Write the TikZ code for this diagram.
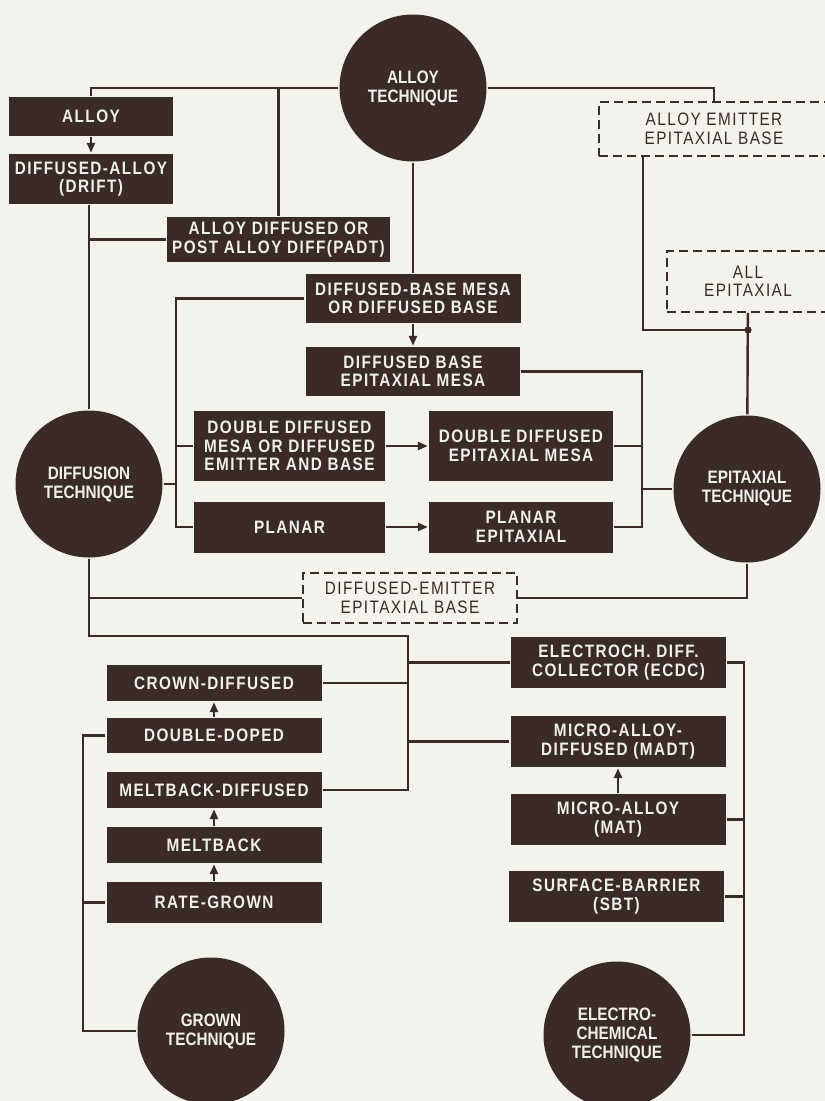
\documentclass[tikz,border=0pt]{standalone}
\usepackage{fontspec}
\setmainfont{Liberation Sans}
\newfontfamily\boxfont[LetterSpace=8,FakeStretch=0.85]{Liberation Sans}
\newfontfamily\techfont[LetterSpace=0,FakeStretch=0.85]{Liberation Sans}
\usetikzlibrary{arrows.meta}
\definecolor{ink}{RGB}{58,43,39}
\definecolor{chalk}{RGB}{242,238,232}
\definecolor{paper}{RGB}{244,242,237}
\tikzset{
  >={Triangle[length=10pt,width=8pt]},
  tech/.style={circle,fill=ink,text=chalk,minimum size=147pt,inner sep=0pt,align=center,font=\techfont\bfseries\fontsize{18}{19}\selectfont},
  blk/.style={rectangle,fill=ink,text=chalk,minimum width=215pt,minimum height=51pt,inner sep=0pt,align=center,font=\boxfont\bfseries\fontsize{18}{18.5}\selectfont},
  opt/.style={rectangle,draw=ink,line width=1.6pt,dash pattern=on 9pt off 5pt,minimum width=214pt,minimum height=50pt,inner sep=0pt,align=center,text=ink,font=\boxfont\fontsize{18}{18.5}\selectfont},
  every picture/.style={line width=2.4pt},
}

\begin{document}
\begin{tikzpicture}[x=1pt,y=-1pt,color=ink,line width=2.4pt]
\useasboundingbox (0,0) rectangle (825,1101);
\clip (0,0) rectangle (825,1101);
\fill[paper] (0,0) rectangle (825,1101);
% techniques
\node[tech] (alloyT) at (413,88){ALLOY\\TECHNIQUE};
\node[tech] (diffT) at (89,484){DIFFUSION\\TECHNIQUE};
\node[tech] (epiT) at (747,489){EPITAXIAL\\TECHNIQUE};
\node[tech] (grownT) at (211,1031){GROWN\\TECHNIQUE};
\node[tech] (echemT) at (617,1035){ELECTRO-\\CHEMICAL\\TECHNIQUE};
% alloy and diffusion
\node[blk,minimum width=164pt,minimum height=39pt] (alloy) at (91,116.5){ALLOY};
\node[blk,minimum width=164pt,minimum height=50pt] (drift) at (91,179){DIFFUSED-ALLOY\\(DRIFT)};
\node[blk,minimum width=223pt,minimum height=45pt] (padt) at (278.5,239.5){ALLOY DIFFUSED OR\\POST ALLOY DIFF(PADT)};
\node[blk,minimum height=49pt] (dbmesa) at (413,298.5){DIFFUSED-BASE MESA\\OR DIFFUSED BASE};
\node[blk,minimum width=214pt,minimum height=49pt] (dbepi) at (413,371.5){DIFFUSED BASE\\EPITAXIAL MESA};
\node[blk,minimum width=191pt,minimum height=70pt] (ddmesa) at (289.5,446){DOUBLE DIFFUSED\\MESA OR DIFFUSED\\EMITTER AND BASE};
\node[blk,minimum width=184pt,minimum height=70pt] (ddepi) at (521,446){DOUBLE DIFFUSED\\EPITAXIAL MESA};
\node[blk,minimum width=191pt] (planar) at (289.5,527){PLANAR};
\node[blk,minimum width=184pt] (planepi) at (521,527){PLANAR\\EPITAXIAL};
% epitaxial
\node[opt,minimum width=230pt,minimum height=54pt] (aeeb) at (714,129){ALLOY EMITTER\\EPITAXIAL BASE};
\node[opt,minimum width=162pt,minimum height=61pt] (allepi) at (748,281.5){ALL\\EPITAXIAL};
\node[opt] (deeb) at (410,598){DIFFUSED-EMITTER\\EPITAXIAL BASE};
% electrochemical
\node[blk] (ecdc) at (618.5,662.5){ELECTROCH. DIFF.\\COLLECTOR (ECDC)};
\node[blk] (madt) at (618,741.5){MICRO-ALLOY-\\DIFFUSED (MADT)};
\node[blk] (mat) at (618,819.5){MICRO-ALLOY\\(MAT)};
\node[blk] (sbt) at (616.5,896.5){SURFACE-BARRIER\\(SBT)};
% grown
\node[blk,minimum height=36pt] (crown) at (214,683){CROWN-DIFFUSED};
\node[blk,minimum height=35pt] (ddoped) at (214,735.5){DOUBLE-DOPED};
\node[blk,minimum height=36pt] (mbdiff) at (214,790){MELTBACK-DIFFUSED};
\node[blk,minimum height=36pt] (mback) at (214,845){MELTBACK};
\node[blk,minimum height=41pt] (rgrown) at (214,902.5){RATE-GROWN};
% buses
\coordinate (busD) at (176,0); \coordinate (busE) at (642,0); \coordinate (busM) at (408,636);
\coordinate (busG) at (83,0); \coordinate (busC) at (744,0); \coordinate (jn) at (748,330);
% connections
\draw (alloyT) -| (alloy); \draw (padt) |- (alloyT); \draw[->] (alloy) -- (drift);
\draw (drift.south -| diffT) -- (diffT); \draw (padt) -- (padt -| diffT);
\draw (alloyT) -- (dbmesa); \draw (alloyT) -| (aeeb);
\draw ([xshift=-71pt]aeeb.south) |- (jn); \draw (allepi) -- (epiT); \fill (jn) circle (3.6pt);
\draw[->] (dbmesa) -- (dbepi);
\draw (dbmesa) -| (busD |- planar) -- (planar); \draw (ddmesa) -- (ddmesa -| busD); \draw (diffT) -- (diffT -| busD);
\draw[->] (ddmesa) -- (ddepi); \draw[->] (planar) -- (planepi);
\draw (dbepi) -| (busE |- planepi) -- (planepi); \draw (ddepi) -- (ddepi -| busE); \draw (epiT) -- (epiT -| busE);
\draw (diffT) |- (deeb); \draw (deeb) -| (epiT);
\draw (diffT) |- (busM) |- (mbdiff);
\draw (crown) -- (crown -| busM); \draw (ecdc) -- (ecdc -| busM); \draw (madt) -- (madt -| busM);
\draw (ddoped) -| (busG |- grownT) -- (grownT); \draw (rgrown) -- (rgrown -| busG);
\draw[->] (ddoped) -- (crown); \draw[->] (mback) -- (mbdiff); \draw[->] (rgrown) -- (mback);
\draw (ecdc) -| (busC |- echemT) -- (echemT); \draw (mat) -- (mat -| busC); \draw (sbt) -- (sbt -| busC);
\draw[->] (mat) -- (madt);
\end{tikzpicture}
\end{document}
